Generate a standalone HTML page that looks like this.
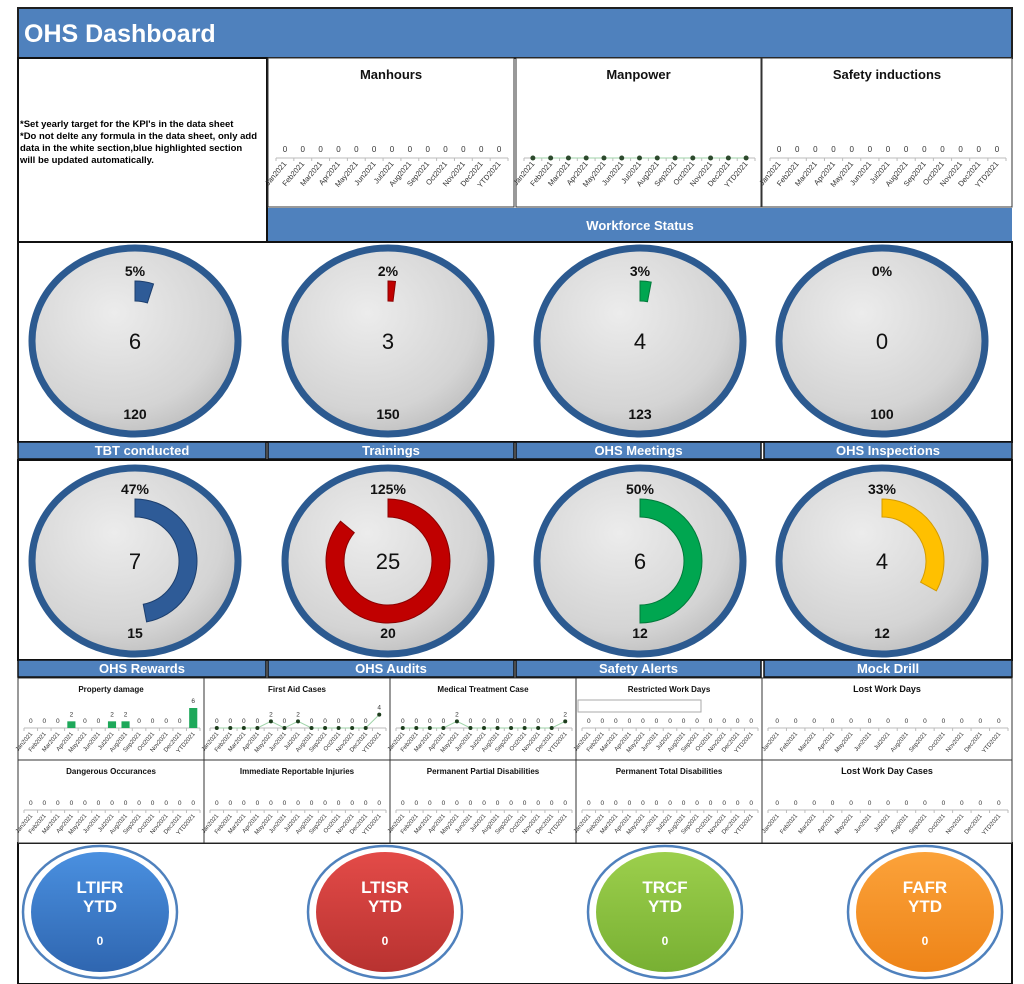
<!DOCTYPE html>
<html><head><meta charset="utf-8"><style>
body{margin:0;background:#fff;font-family:"Liberation Sans",sans-serif}
svg{display:block}
</style></head><body>
<svg id="dash" width="1024" height="984" viewBox="0 0 1024 984" xmlns="http://www.w3.org/2000/svg">
<defs>
<radialGradient id="gface" cx="0.4" cy="0.35" r="0.75"><stop offset="0" stop-color="#ececec"/><stop offset="0.7" stop-color="#d4d4d4"/><stop offset="1" stop-color="#b8b8b8"/></radialGradient>
<linearGradient id="cblue" x1="0" y1="0" x2="0" y2="1"><stop offset="0" stop-color="#4a90e0"/><stop offset="1" stop-color="#2f66b0"/></linearGradient>
<linearGradient id="cred" x1="0" y1="0" x2="0" y2="1"><stop offset="0" stop-color="#e34b48"/><stop offset="1" stop-color="#b83230"/></linearGradient>
<linearGradient id="cgreen" x1="0" y1="0" x2="0" y2="1"><stop offset="0" stop-color="#9ccf4c"/><stop offset="1" stop-color="#78b033"/></linearGradient>
<linearGradient id="corange" x1="0" y1="0" x2="0" y2="1"><stop offset="0" stop-color="#fba23a"/><stop offset="1" stop-color="#ee8418"/></linearGradient>
</defs>
<rect x="18" y="8" width="994" height="50" fill="#4f81bd" stroke="#1f1f1f" stroke-width="2"/>
<text x="24" y="42" font-size="25" font-weight="bold" fill="#fff">OHS Dashboard</text>
<rect x="18" y="58" width="249" height="184" fill="#fff" stroke="#111" stroke-width="2"/>
<g font-size="9.5" font-weight="bold" fill="#000">
<text x="20" y="127">*Set yearly target for the KPI's in the data sheet</text>
<text x="20" y="139">*Do not delte any formula in the data sheet, only add</text>
<text x="20" y="151">data in the white section,blue highlighted section</text>
<text x="20" y="163">will be updated automatically.</text>
</g>
<rect x="268" y="208" width="744" height="34" fill="#4f81bd"/>
<text x="640" y="230" font-size="13" font-weight="bold" fill="#fff" text-anchor="middle">Workforce Status</text>
<rect x="18" y="242" width="994" height="200" fill="#fff" stroke="#111" stroke-width="2"/>
<rect x="18" y="460" width="994" height="200" fill="#fff" stroke="#111" stroke-width="2"/>
<rect x="18" y="843" width="994" height="141" fill="#fff" stroke="#111" stroke-width="2"/>
<g id="layer"></g>
</svg>
<script>
const months=["Jan2021","Feb2021","Mar2021","Apr2021","May2021","Jun2021","Jul2021","Aug2021","Sep2021","Oct2021","Nov2021","Dec2021","YTD2021"];
const manhoursVals=[0,0,0,0,0,0,0,0,0,0,0,0,0];
const manpowerVals=[0,0,0,0,0,0,0,0,0,0,0,0,0];
const inductionVals=[0,0,0,0,0,0,0,0,0,0,0,0,0];
const propertyVals=[0,0,0,2,0,0,2,2,0,0,0,0,6];
const firstAidVals=[0,0,0,0,2,0,2,0,0,0,0,0,4];
const medicalVals=[0,0,0,0,2,0,0,0,0,0,0,0,2];
const restrictedVals=[0,0,0,0,0,0,0,0,0,0,0,0,0];
const lostDaysVals=[0,0,0,0,0,0,0,0,0,0,0,0,0];
const dangerousVals=[0,0,0,0,0,0,0,0,0,0,0,0,0];
const immediateVals=[0,0,0,0,0,0,0,0,0,0,0,0,0];
const partialVals=[0,0,0,0,0,0,0,0,0,0,0,0,0];
const totalVals=[0,0,0,0,0,0,0,0,0,0,0,0,0];
const lostCasesVals=[0,0,0,0,0,0,0,0,0,0,0,0,0];
const gauge1Names=["TBT conducted","Trainings","OHS Meetings","OHS Inspections"];
const gauge1Pct=[5,2,3,0];
const gauge1Val=[6,3,4,0];
const gauge1Target=[120,150,123,100];
const gauge2Names=["OHS Rewards","OHS Audits","Safety Alerts","Mock Drill"];
const gauge2Pct=[47,125,50,33];
const gauge2Val=[7,25,6,4];
const gauge2Target=[15,20,12,12];
const kpiNames=["LTIFR","LTISR","TRCF","FAFR"];
const kpiVals=[0,0,0,0];

const NS="http://www.w3.org/2000/svg";
const layer=document.getElementById('layer');
function mk(tag,attrs,parent,txt){const e=document.createElementNS(NS,tag);for(const k in attrs)e.setAttribute(k,attrs[k]);if(txt!==undefined)e.textContent=txt;(parent||layer).appendChild(e);return e;}

function chart(x0,y0,w,h,title,vals,type,o){
  const g=mk('g',{});
  
  
  mk('rect',{x:x0,y:y0,width:w,height:h,fill:'#fff',stroke:'#333','stroke-width':1},g);
  const t=mk('text',{x:x0+w/2,y:y0+o.ty,'font-size':o.tfs,'font-weight':'bold','text-anchor':'middle',fill:'#111'},g,title);
  
  
  const axY=y0+o.ay, left=x0+o.pl, right=x0+w-o.pr;
  const n=vals.length, step=(right-left)/n;
  const X=i=>left+step*(i+0.5);
  const maxV=Math.max(6,...vals);
  const Y=v=>axY-v/maxV*o.ph;
  mk('line',{x1:left,y1:axY,x2:right,y2:axY,stroke:'#bbb','stroke-width':1},g);
  for(let i=0;i<=n;i++)mk('line',{x1:left+step*i,y1:axY,x2:left+step*i,y2:axY+3,stroke:'#bbb'},g);
  if(type==='line'){
    let d='';vals.forEach((v,i)=>{d+=(i?'L':'M')+X(i)+' '+Y(v);});
    mk('path',{d:d,fill:'none',stroke:'#9fd3a8','stroke-width':1},g);
  }
  vals.forEach((v,i)=>{
    if(type==='bar'&&v>0){const b=mk('rect',{x:X(i)-step*0.3,y:Y(v),width:step*0.6,height:axY-Y(v),fill:'#1ea85a'},g);
      }
    if(type==='line'){const p=mk('circle',{cx:X(i),cy:Y(v),r:o.dot||2,fill:o.dotc||'#1d3d1d'},g);
      }
    if(!o.nolabel)mk('text',{x:X(i),y:Y(v)-o.lo,'font-size':o.vfs,'text-anchor':'middle',fill:'#333'},g,String(v));
    const lx=X(i)+2, ly=axY+6;
    mk('text',{x:lx,y:ly,'font-size':o.xfs,'text-anchor':'end',fill:'#333',transform:`rotate(-50 ${lx} ${ly})`},g,o.short&&months[i].length>7?months[i].slice(0,5)+'..':months[i]);
  });
}
const big={ty:21,tfs:13,ay:100,pl:8,pr:6,ph:0,lo:6,vfs:8,xfs:7.5};
chart(268,58,246,149,'Manhours',manhoursVals,'none',big);
chart(516,58,245,149,'Manpower',manpowerVals,'line',Object.assign({},big,{nolabel:true,dot:2.5,dotc:'#2d4a2d'}));
chart(762,58,250,149,'Safety inductions',inductionVals,'none',big);
const sm={ty:14,tfs:8,ay:50,pl:6,pr:4,ph:20,lo:5,vfs:6.5,xfs:6,short:true};
const smB=Object.assign({},sm,{tfs:9});
chart(18,678,186,82,'Property damage',propertyVals,'bar',sm);
chart(204,678,186,82,'First Aid Cases',firstAidVals,'line',sm);
chart(390,678,186,82,'Medical Treatment Case',medicalVals,'line',sm);
chart(576,678,186,82,'Restricted Work Days',restrictedVals,'none',sm);
chart(762,678,250,82,'Lost Work Days',lostDaysVals,'none',smB);
chart(18,760,186,83,'Dangerous Occurances',dangerousVals,'none',sm);
chart(204,760,186,83,'Immediate Reportable Injuries',immediateVals,'none',sm);
chart(390,760,186,83,'Permanent Partial Disabilities',partialVals,'none',sm);
chart(576,760,186,83,'Permanent Total Disabilities',totalVals,'none',sm);
chart(762,760,250,83,'Lost Work Day Cases',lostCasesVals,'none',smB);
mk('rect',{x:578,y:700,width:123,height:12,fill:'#fff',stroke:'#aaa'});

function arcPath(cx,cy,r1,r2,deg){
  if(deg<=0)return '';
  const a=deg*Math.PI/180, L=deg>180?1:0;
  const p=(r,t)=>[cx+r*Math.sin(t),cy-r*Math.cos(t)];
  const [x1,y1]=p(r2,0),[x2,y2]=p(r2,a),[x3,y3]=p(r1,a),[x4,y4]=p(r1,0);
  return `M${x1} ${y1}A${r2} ${r2} 0 ${L} 1 ${x2} ${y2}L${x3} ${y3}A${r1} ${r1} 0 ${L} 0 ${x4} ${y4}Z`;
}
const cols=['#2e5b97','#c00000','#00a650','#ffc000'];
const edge=['#1d3f6e','#8a0000','#007a3a','#d49b00'];
const gx=[135,388,640,882];
function gaugeRow(cy,pcts,vals,tgts,r1,r2,py,ty,tag){
  pcts.forEach((p,i)=>{
    const g=mk('g',{});
    
    
    mk('ellipse',{cx:gx[i],cy:cy,rx:103,ry:93,fill:'url(#gface)',stroke:'#2c5a90','stroke-width':7},g);
    const deg=p>100?310:p*3.6;
    const a=mk('path',{d:arcPath(gx[i],cy,r1,r2,Math.max(deg,0)),fill:cols[i],stroke:edge[i],'stroke-width':1},g);
    
    mk('text',{x:gx[i],y:py,'font-size':14,'font-weight':'bold','text-anchor':'middle',fill:'#111'},g,p+'%');
    mk('text',{x:gx[i],y:cy+8,'font-size':22,'text-anchor':'middle',fill:'#111'},g,String(vals[i]));
    mk('text',{x:gx[i],y:ty,'font-size':14,'font-weight':'bold','text-anchor':'middle',fill:'#111'},g,String(tgts[i]));
  });
}
gaugeRow(341,gauge1Pct,gauge1Val,gauge1Target,40,60,276,419,'workforce');
gaugeRow(561,gauge2Pct,gauge2Val,gauge2Target,44,62,494,638,'activity');
const bx=[[18,266],[268,514],[516,761],[764,1012]];
function labelRow(y,names){
  names.forEach((nm,i)=>{
    const r=mk('rect',{x:bx[i][0],y:y,width:bx[i][1]-bx[i][0],height:17,fill:'#4f81bd',stroke:'#111','stroke-width':1.5});
    
    mk('text',{x:(bx[i][0]+bx[i][1])/2,y:y+13,'font-size':13,'font-weight':'bold','text-anchor':'middle',fill:'#fff'},undefined,nm);
  });
}
labelRow(442,gauge1Names);
labelRow(660,gauge2Names);
const kx=[100,385,665,925], kf=['url(#cblue)','url(#cred)','url(#cgreen)','url(#corange)'];
kpiNames.forEach((nm,i)=>{
  const g=mk('g',{});
  
  
  mk('ellipse',{cx:kx[i],cy:912,rx:77,ry:66,fill:'#fff',stroke:'#4f81bd','stroke-width':2.5},g);
  mk('ellipse',{cx:kx[i],cy:912,rx:69,ry:60,fill:kf[i]},g);
  mk('text',{x:kx[i],y:893,'font-size':17,'font-weight':'bold','text-anchor':'middle',fill:'#fff'},g,nm);
  mk('text',{x:kx[i],y:912,'font-size':17,'font-weight':'bold','text-anchor':'middle',fill:'#fff'},g,'YTD');
  mk('text',{x:kx[i],y:945,'font-size':12,'font-weight':'bold','text-anchor':'middle',fill:'#fff'},g,String(kpiVals[i]));
});
</script>
</body></html>
